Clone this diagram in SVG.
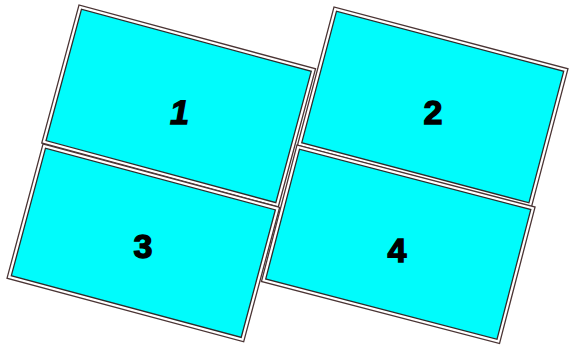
<svg xmlns="http://www.w3.org/2000/svg" width="569" height="352" viewBox="0 0 569 352">
<style>
.o{fill:#ffffff;stroke:#4a3434;stroke-width:1.3}
.i{fill:#00fcfc;stroke:#2e2a2a;stroke-width:1.3}
.t{font-family:"Liberation Sans",Arial,sans-serif;font-weight:bold;font-size:34px;fill:#000;stroke:#000;stroke-width:1.4;text-anchor:middle;dominant-baseline:central}
</style>
<rect width="569" height="352" fill="#ffffff"/>
<g id="panel1">
<g transform="translate(79,5) rotate(15.1)">
<rect class="o" x="0" y="0" width="245" height="143"/>
<rect class="i" x="3.5" y="3.5" width="238" height="136"/>
</g>
<text class="t" x="180" y="112" transform="skewX(-10) translate(19.7,0)">1</text>
</g>
<g id="panel2">
<g transform="translate(334,7) rotate(14.8)">
<rect class="o" x="0" y="0" width="242" height="143"/>
<rect class="i" x="3.5" y="3.5" width="235" height="136"/>
</g>
<text class="t" x="433" y="112">2</text>
</g>
<g id="panel3">
<g transform="translate(43,144) rotate(15)">
<rect class="o" x="0" y="0" width="245" height="139"/>
<rect class="i" x="3.5" y="3.5" width="238" height="132"/>
</g>
<text class="t" x="143" y="246">3</text>
</g>
<g id="panel4">
<g transform="translate(297,145) rotate(14.6)">
<rect class="o" x="0" y="0" width="246" height="141"/>
<rect class="i" x="3.5" y="3.5" width="239" height="134"/>
</g>
<text class="t" x="397" y="250">4</text>
</g>
</svg>
